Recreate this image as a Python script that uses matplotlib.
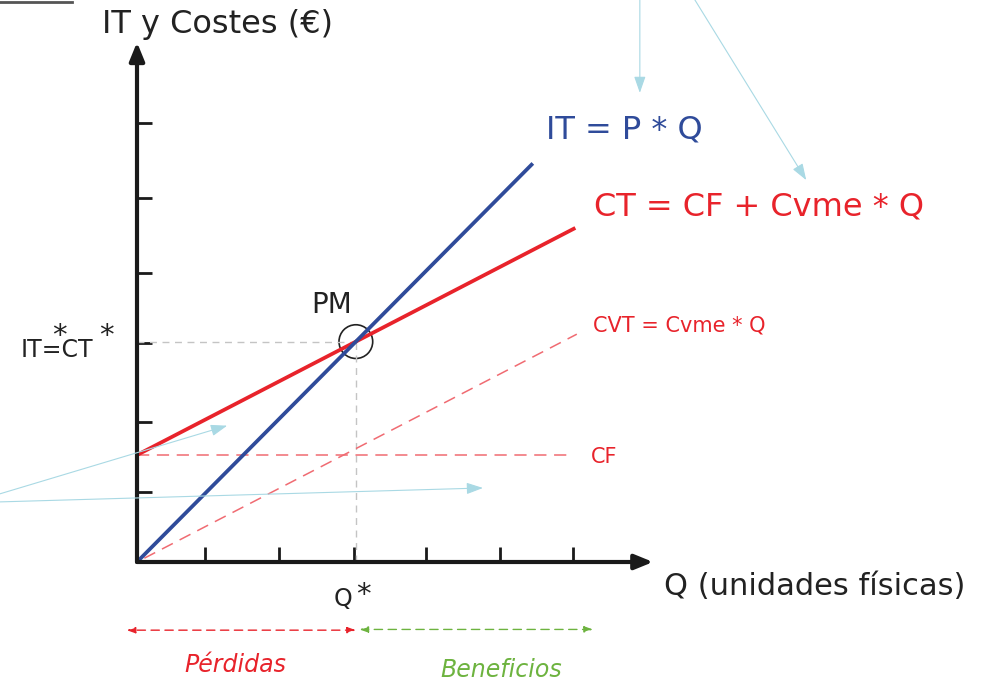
import numpy as np
import matplotlib.pyplot as plt
from matplotlib.patches import Circle

# -------------------------
# Data (economic units, 1 unit = 1 tick)
# -------------------------
P = 1.007          # precio -> pendiente de IT
CF = 1.46          # coste fijo
CVME = 0.518       # coste variable medio

q_ticks = [0.93, 1.94, 2.96, 3.94, 4.95, 5.95]
y_ticks = [0.95, 1.91, 2.99, 3.94, 4.97, 5.99]

q_it = np.array([0.0, 5.40])
q_ct = np.array([0.0, 5.98])
q_cf = np.array([0.0, 5.93])
q_cvt = np.array([0.1, 6.0])

q_star = CF / (P - CVME)
y_star = P * q_star

BLUE = "#2f4b9a"
RED = "#e8232b"
LIGHT_RED = "#f06b72"
GREEN = "#6db33f"
LBLUE = "#a9d9e4"
GREY = "#c4c4c4"
INK = "#222222"

U = 73.3  # px per unit
fig = plt.figure(figsize=(9.96, 6.81), dpi=100)
ax = fig.add_axes([0, 0, 1, 1])
ax.set_xlim(-137 / U, 859 / U)
ax.set_ylim(-119 / U, 562 / U)
ax.axis("off")

# axes with arrows
ax.annotate("", xy=(0, 7.09), xytext=(0, 0),
            arrowprops=dict(arrowstyle="-|>,head_length=1.1,head_width=0.45",
                            lw=3, color="#1a1a1a", shrinkA=0, shrinkB=0))
ax.annotate("", xy=(7.04, 0), xytext=(0, 0),
            arrowprops=dict(arrowstyle="-|>,head_length=1.1,head_width=0.45",
                            lw=3, color="#1a1a1a", shrinkA=0, shrinkB=0))
for t in q_ticks:
    ax.plot([t, t], [0, 0.21], color="#1a1a1a", lw=2, solid_capstyle="butt")
for t in y_ticks:
    ax.plot([0, 0.21], [t, t], color="#1a1a1a", lw=2, solid_capstyle="butt")

# guide lines to the break-even point
ax.plot([0, q_star], [y_star, y_star], color=GREY, lw=1, ls=(0, (5, 4)))
ax.plot([q_star, q_star], [0, y_star], color=GREY, lw=1, ls=(0, (5, 4)))

# cost lines
ax.plot(q_cf, [CF, CF], color=LIGHT_RED, lw=1.1, ls=(0, (8, 5)))
ax.plot(q_cvt, CVME * q_cvt, color=LIGHT_RED, lw=1.1, ls=(0, (8, 5)))
ax.plot(q_ct, CF + CVME * q_ct, color=RED, lw=2.7, solid_capstyle="butt")
ax.plot(q_it, P * q_it, color=BLUE, lw=2.7, solid_capstyle="butt")

ax.add_patch(Circle((q_star, y_star), 0.23, fill=False, ec=INK, lw=1.2))

# labels
ax.text(1.10, 7.33, "IT y Costes (€)", fontsize=23, color=INK, ha="center", va="center")
ax.text(5.58, 5.89, "IT = P * Q", fontsize=23, color=BLUE, va="center")
ax.text(6.23, 4.84, "CT = CF + Cvme * Q", fontsize=23, color=RED, va="center")
ax.text(6.22, 3.23, "CVT = Cvme * Q", fontsize=15, color=RED, va="center")
ax.text(6.19, 1.43, "CF", fontsize=15, color=RED, va="center")
ax.text(2.66, 3.51, "PM", fontsize=20, color=INK, ha="center", va="center")
ax.text(-0.60, 2.89, "IT=CT", fontsize=17, color=INK, ha="right", va="center")
ax.text(-1.06, 3.08, "*", fontsize=21, color=INK, ha="center", va="center")
ax.text(-0.42, 3.08, "*", fontsize=21, color=INK, ha="center", va="center")
ax.text(2.81, -0.51, "Q", fontsize=17, color=INK, ha="center", va="center")
ax.text(3.09, -0.45, "*", fontsize=21, color=INK, ha="center", va="center")
ax.text(7.19, -0.34, "Q (unidades físicas)", fontsize=22, color=INK, va="center")
ax.text(1.34, -1.41, "Pérdidas", fontsize=17, style="italic", color=RED, ha="center", va="center")
ax.text(4.97, -1.47, "Beneficios", fontsize=17, style="italic", color=GREEN, ha="center", va="center")

# profit / loss zones
ax.annotate("", xy=(-0.14, -0.93), xytext=(q_star, -0.93),
            arrowprops=dict(arrowstyle="<|-|>,head_length=0.5,head_width=0.18",
                            lw=1, ls=(0, (6, 4)), color=RED, shrinkA=0, shrinkB=0))
ax.annotate("", xy=(q_star + 0.05, -0.92), xytext=(6.22, -0.92),
            arrowprops=dict(arrowstyle="<|-|>,head_length=0.5,head_width=0.18",
                            lw=1, ls=(0, (6, 4)), color=GREEN, shrinkA=0, shrinkB=0))

# light blue pointer arrows
blue_arrows = [((6.86, 7.67), (6.86, 6.40)),
               ((7.61, 7.67), (9.13, 5.21)),
               ((-1.87, 0.93), (1.23, 1.86)),
               ((-1.87, 0.82), (4.72, 1.01))]
for start, end in blue_arrows:
    ax.annotate("", xy=end, xytext=start,
                arrowprops=dict(arrowstyle="-|>,head_length=1.0,head_width=0.35",
                                lw=0.8, color=LBLUE, shrinkA=0, shrinkB=0))

# small frame fragment top-left
ax.plot([-137 / U, -65 / U], [560 / U, 560 / U], color="#555555", lw=2)

fig.savefig("out.png", dpi=100)
